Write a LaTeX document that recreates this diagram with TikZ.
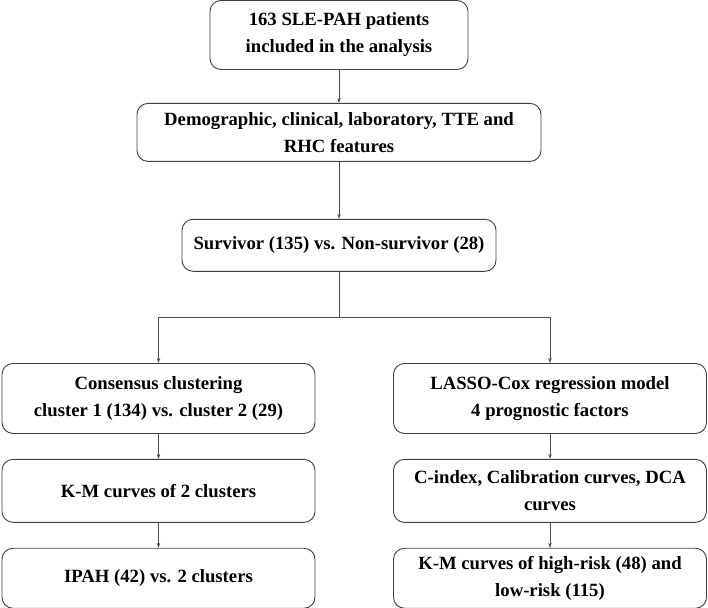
\documentclass[tikz,border=0pt]{standalone}
\usepackage{fontspec}
\setmainfont{Liberation Serif}
\usepackage{tikz}
\usetikzlibrary{arrows.meta, positioning, calc}
\tikzstyle{flowbox} = [rectangle, rounded corners=11pt, draw=black!75, line width=0.9pt, fill=white,
                       align=center, inner xsep=4pt, inner ysep=2pt,
                       font=\bfseries\fontsize{18.7}{27}\selectfont]
\tikzstyle{colbox} = [flowbox, minimum width=313pt]
\tikzstyle{arrow} = [line width=0.7pt, draw=black!70, -{Stealth[length=5pt, width=3.5pt]}]
\tikzstyle{line} = [line width=0.7pt, draw=black!70]

\begin{document}
\begin{tikzpicture}[node distance=25pt]
    \useasboundingbox (0pt,0pt) rectangle (708pt,-607pt);
    % Top: cohort
    \node[flowbox, minimum width=258pt, minimum height=69pt] (cohort) at (339pt,-35pt)
        {163 SLE-PAH patients\\included in the analysis};
    \node[flowbox, minimum width=404pt, minimum height=58pt, below=33pt of cohort] (features)
        {Demographic, clinical, laboratory, TTE and\\RHC features};
    \node[flowbox, minimum width=314pt, minimum height=52pt, below=57pt of features] (survival)
        {Survivor (135) vs. Non-survivor (28)};
    \coordinate[below=46pt of survival] (split);

    % Left column: clustering
    \node[colbox, minimum height=70pt, anchor=north] (consensus) at (158.5pt,-363pt)
        {Consensus clustering\\cluster 1 (134) vs. cluster 2 (29)};
    \node[colbox, minimum height=63pt, below=of consensus] (kmcluster) {K-M curves of 2 clusters};
    \node[colbox, minimum height=60pt, below=of kmcluster] (ipah) {IPAH (42) vs. 2 clusters};

    % Right column: prognostic model
    \node[colbox, minimum height=70pt, anchor=north] (lasso) at (550pt,-363pt)
        {LASSO-Cox regression model\\4 prognostic factors};
    \node[colbox, minimum height=63pt, below=of lasso] (validation)
        {C-index, Calibration curves, DCA\\curves};
    \node[colbox, minimum height=60pt, below=of validation] (kmrisk)
        {K-M curves of high-risk (48) and\\low-risk (115)};

    % Arrows top
    \draw[arrow] (cohort) -- (features);
    \draw[arrow] (features) -- (survival);

    % Branching
    \draw[line] (survival) -- (split);
    \draw[arrow] (split) -| (consensus.north);
    \draw[arrow] (split) -| (lasso.north);

    % Arrows columns
    \draw[arrow] (consensus) -- (kmcluster);
    \draw[arrow] (kmcluster) -- (ipah);
    \draw[arrow] (lasso) -- (validation);
    \draw[arrow] (validation) -- (kmrisk);
\end{tikzpicture}
\end{document}
